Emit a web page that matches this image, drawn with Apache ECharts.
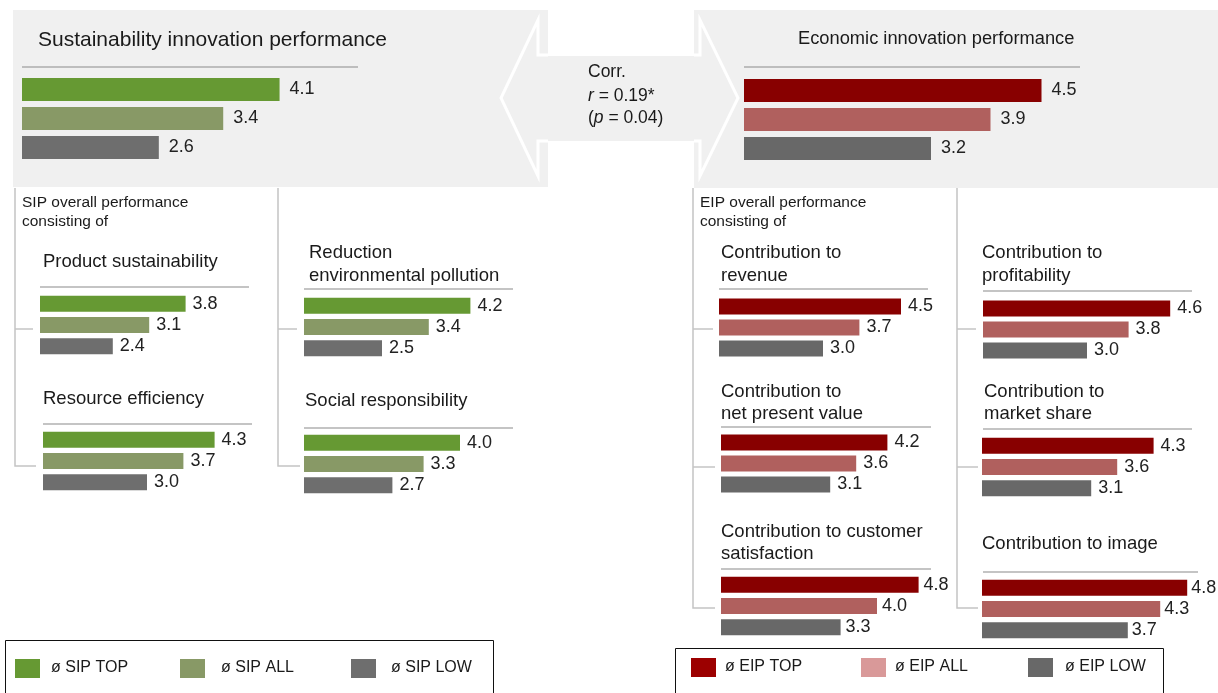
<!DOCTYPE html>
<html>
<head>
<meta charset="utf-8">
<script src="https://cdn.jsdelivr.net/npm/echarts@6/dist/echarts.min.js"></script>
<style>
  html, body { margin: 0; padding: 0; background: #fff; }
  #main { width: 1218px; height: 693px; }
</style>
</head>
<body>
<div id="main"></div>
<script>
var levels = ['TOP', 'ALL', 'LOW'];
// SIP side
var sipOverall = [4.1, 3.4, 2.6];
var productSustainability = [3.8, 3.1, 2.4];
var reductionPollution = [4.2, 3.4, 2.5];
var resourceEfficiency = [4.3, 3.7, 3.0];
var socialResponsibility = [4.0, 3.3, 2.7];
// EIP side
var eipOverall = [4.5, 3.9, 3.2];
var toRevenue = [4.5, 3.7, 3.0];
var toProfitability = [4.6, 3.8, 3.0];
var toNetPresentValue = [4.2, 3.6, 3.1];
var toMarketShare = [4.3, 3.6, 3.1];
var toCustomerSatisfaction = [4.8, 4.0, 3.3];
var toImage = [4.8, 4.3, 3.7];
// correlation
var corrR = '0.19*';
var corrP = '0.04';
var sipLegend = ['ø SIP TOP', 'ø SIP ALL', 'ø SIP LOW'];
var eipLegend = ['ø EIP TOP', 'ø EIP ALL', 'ø EIP LOW'];

var sipColors = ['#669933', '#889966', '#6e6e6e'];
var eipColors = ['#880000', '#b0605e', '#686868'];
var eipLegendColors = ['#9c0000', '#d99999', '#686868'];
var FONT = '"Liberation Sans", Arial, Helvetica, sans-serif';
var GRAY_BG = '#f0f0f0';
var LINE_C = '#c4c4c4';
var SUB = 18.5;   // sub panel title size

var panels = [
    {data: sipOverall, colors: sipColors, left: 22, top: 75, width: 330, height: 87, min: 0.9, bw: 23, dist: 10},
    {data: eipOverall, colors: eipColors, left: 744, top: 76, width: 340, height: 87, min: 1, bw: 23, dist: 10},
    {data: productSustainability, colors: sipColors, left: 40, top: 293, width: 208, height: 64, min: 1, bw: 16, dist: 7},
    {data: reductionPollution, colors: sipColors, left: 304, top: 295, width: 208, height: 64, min: 1, bw: 16, dist: 7},
    {data: resourceEfficiency, colors: sipColors, left: 43, top: 429, width: 208, height: 64, min: 1, bw: 16, dist: 7},
    {data: socialResponsibility, colors: sipColors, left: 304, top: 432, width: 208, height: 64, min: 1, bw: 16, dist: 7},
    {data: toRevenue, colors: eipColors, left: 719, top: 296, width: 208, height: 63, min: 1, bw: 16, dist: 7},
    {data: toProfitability, colors: eipColors, left: 983, top: 298, width: 208, height: 63, min: 1, bw: 16, dist: 7},
    {data: toNetPresentValue, colors: eipColors, left: 721, top: 432, width: 208, height: 63, min: 1, bw: 16, dist: 7},
    {data: toMarketShare, colors: eipColors, left: 982, top: 435, width: 208, height: 64, min: 1, bw: 16, dist: 7},
    {data: toCustomerSatisfaction, colors: eipColors, left: 721, top: 574, width: 208, height: 64, min: 1, bw: 16, dist: 5},
    {data: toImage, colors: eipColors, left: 982, top: 577, width: 216, height: 64, min: 1, bw: 16, dist: 4}
];

var grids = [], xAxes = [], yAxes = [], series = [];
for (var i = 0; i < panels.length; i++) {
    var p = panels[i];
    grids.push({left: p.left, top: p.top, width: p.width, height: p.height});
    xAxes.push({type: 'value', gridIndex: i, min: p.min, max: 5, show: false});
    yAxes.push({type: 'category', gridIndex: i, data: levels, inverse: true, show: false});
    series.push({
        type: 'bar',
        xAxisIndex: i,
        yAxisIndex: i,
        barWidth: p.bw,
        silent: true,
        data: p.data.map(function (v, k) {
            return {value: v, itemStyle: {color: p.colors[k]}};
        }),
        label: {
            show: true,
            position: 'right',
            distance: p.dist,
            color: '#222',
            fontFamily: FONT,
            fontSize: 18,
            formatter: function (prm) { return prm.value.toFixed(1); }
        }
    });
}

function txt(x, y, s, size, extra) {
    var o = {
        type: 'text', z: 10,
        style: {x: x, y: y, text: s, fill: '#1a1a1a', font: size + 'px ' + FONT, textVerticalAlign: 'middle'}
    };
    if (extra) { for (var k in extra) o.style[k] = extra[k]; }
    return o;
}
function line(x1, y1, x2, y2, color, w) {
    return {type: 'line', z: 5, shape: {x1: x1, y1: y1, x2: x2, y2: y2}, style: {stroke: color, lineWidth: w}};
}
function poly(pts, color, w) {
    return {type: 'polyline', z: 5, shape: {points: pts}, style: {stroke: color, lineWidth: w, fill: null}};
}
function rect(x, y, w, h, fill, z) {
    return {type: 'rect', z: z || 1, shape: {x: x, y: y, width: w, height: h}, style: {fill: fill}};
}

var graphics = [
    // grey header boxes and arrow body
    rect(13, 10, 535, 177, GRAY_BG),
    rect(694, 10, 524, 178, GRAY_BG),
    rect(547, 56, 150, 85, GRAY_BG),
    // white double arrow outline
    poly([[548, 55], [538, 55], [538, 20], [501, 98], [538, 176], [538, 141], [548, 141]], '#ffffff', 3),
    poly([[694, 55], [700, 55], [700, 20], [738, 98], [700, 176], [700, 141], [694, 141]], '#ffffff', 3),
    // header titles
    txt(38, 40, 'Sustainability innovation performance', 21),
    line(22, 67, 358, 67, '#bdbdbd', 2),
    txt(798, 39, 'Economic innovation performance', 18.3),
    line(744, 67, 1080, 67, '#bdbdbd', 2),
    // correlation text
    txt(588, 72, 'Corr.', 17.5),
    {type: 'text', z: 10, style: {x: 588, y: 96, text: '{i|r} = ' + corrR, fill: '#1a1a1a', font: '17.5px ' + FONT, textVerticalAlign: 'middle',
        rich: {i: {fontStyle: 'italic', fontSize: 17.5, fontFamily: FONT}}}},
    {type: 'text', z: 10, style: {x: 588, y: 118, text: '({i|p} = ' + corrP + ')', fill: '#1a1a1a', font: '17.5px ' + FONT, textVerticalAlign: 'middle',
        rich: {i: {fontStyle: 'italic', fontSize: 17.5, fontFamily: FONT}}}},

    // SIP tree
    txt(22, 203, 'SIP overall performance', 15.5),
    txt(22, 222, 'consisting of', 15.5),
    poly([[15, 188], [15, 466], [36, 466]], LINE_C, 1.5),
    line(15, 329, 33, 329, LINE_C, 1.5),
    poly([[278, 188], [278, 466], [300, 466]], LINE_C, 1.5),
    line(278, 329, 297, 329, LINE_C, 1.5),
    txt(43, 262, 'Product sustainability', SUB),
    line(40, 287, 249, 287, LINE_C, 2),
    txt(309, 253, 'Reduction', SUB),
    txt(309, 276, 'environmental pollution', SUB),
    line(304, 289, 513, 289, LINE_C, 2),
    txt(43, 399, 'Resource efficiency', SUB),
    line(43, 424, 252, 424, LINE_C, 2),
    txt(305, 401, 'Social responsibility', SUB),
    line(304, 428, 513, 428, LINE_C, 2),

    // EIP tree
    txt(700, 203, 'EIP overall performance', 15.5),
    txt(700, 222, 'consisting of', 15.5),
    poly([[693, 188], [693, 608], [715, 608]], LINE_C, 1.5),
    line(693, 329, 713, 329, LINE_C, 1.5),
    line(693, 467, 715, 467, LINE_C, 1.5),
    poly([[957, 188], [957, 608], [978, 608]], LINE_C, 1.5),
    line(957, 329, 976, 329, LINE_C, 1.5),
    line(957, 467, 978, 467, LINE_C, 1.5),
    txt(721, 253, 'Contribution to', SUB),
    txt(721, 276, 'revenue', SUB),
    line(719, 289, 928, 289, LINE_C, 2),
    txt(982, 253, 'Contribution to', SUB),
    txt(982, 276, 'profitability', SUB),
    line(983, 291, 1192, 291, LINE_C, 2),
    txt(721, 392, 'Contribution to', SUB),
    txt(721, 414, 'net present value', SUB),
    line(721, 427, 931, 427, LINE_C, 2),
    txt(984, 392, 'Contribution to', SUB),
    txt(984, 414, 'market share', SUB),
    line(983, 429, 1192, 429, LINE_C, 2),
    txt(721, 532, 'Contribution to customer', SUB),
    txt(721, 554, 'satisfaction', SUB),
    line(721, 569, 931, 569, LINE_C, 2),
    txt(982, 544, 'Contribution to image', SUB),
    line(983, 572, 1198, 572, LINE_C, 2),

    // legend boxes
    {type: 'rect', z: 5, shape: {x: 5.5, y: 640.5, width: 488, height: 60}, style: {fill: null, stroke: '#111', lineWidth: 1}},
    {type: 'rect', z: 5, shape: {x: 675.5, y: 648.5, width: 488, height: 60}, style: {fill: null, stroke: '#111', lineWidth: 1}}
];

var sipLegX = [[15, 51], [180, 221], [351, 391]];
var eipLegX = [[691, 725], [861, 895], [1028, 1065]];
for (var j = 0; j < 3; j++) {
    graphics.push(rect(sipLegX[j][0], 659, 25, 19, sipColors[j], 6));
    graphics.push(txt(sipLegX[j][1], 668, sipLegend[j], 16));
    graphics.push(rect(eipLegX[j][0], 658, 25, 19, eipLegendColors[j], 6));
    graphics.push(txt(eipLegX[j][1], 667, eipLegend[j], 16));
}

var chart = echarts.init(document.getElementById('main'), null, {renderer: 'canvas'});
chart.setOption({
    animation: false,
    backgroundColor: '#ffffff',
    grid: grids,
    xAxis: xAxes,
    yAxis: yAxes,
    series: series,
    graphic: graphics
});
</script>
</body>
</html>
